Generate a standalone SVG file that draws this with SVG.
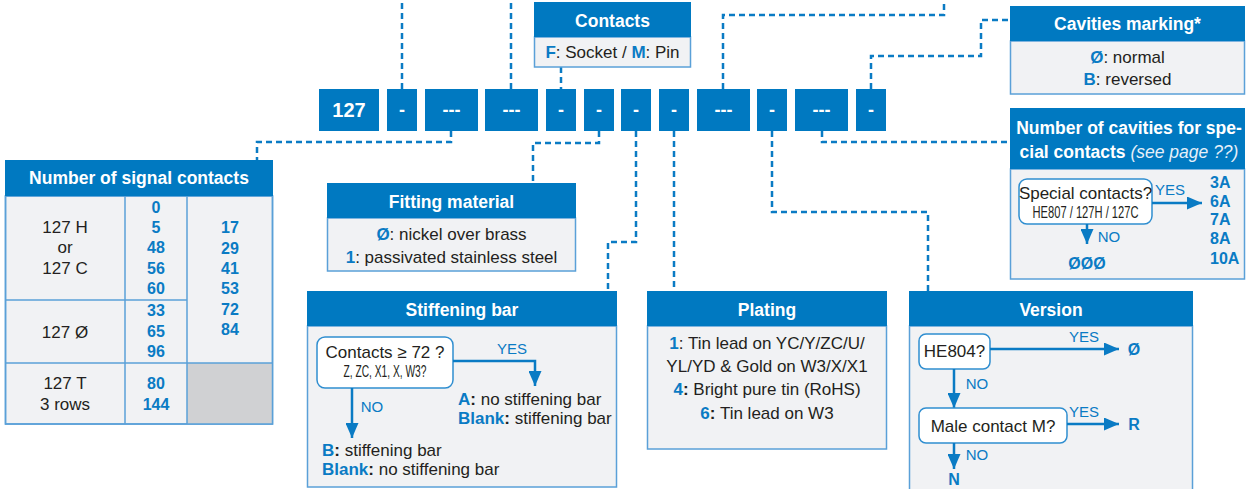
<svg xmlns="http://www.w3.org/2000/svg" width="1247" height="489" viewBox="0 0 1247 489">
<defs>
<marker id="ah" markerUnits="userSpaceOnUse" markerWidth="15" markerHeight="13" refX="15" refY="6.5" orient="auto">
<path d="M0,0 L15,6.5 L0,13 z" fill="#0a7bc4"/>
</marker>
</defs>
<style>
.hd{fill:#0079c1}
.bd{fill:#f1f2f4;stroke:#5aa0d8;stroke-width:1.5}
.code{fill:#0079c1}
.ct{font-family:"Liberation Sans",Arial,sans-serif;font-weight:bold;fill:#fff;text-anchor:middle}
.ht{font-family:"Liberation Sans",Arial,sans-serif;font-weight:bold;font-size:17.5px;fill:#fff;text-anchor:middle}
.t{font-family:"Liberation Sans",Arial,sans-serif;font-size:17px;fill:#231f20}
.m{text-anchor:middle}
.b{font-weight:bold;fill:#0a7bc4}
.bk{font-weight:bold;fill:#231f20}
.v{font-family:"Liberation Sans",Arial,sans-serif;font-size:16px;font-weight:bold;fill:#0a7bc4}
.yn{font-family:"Liberation Sans",Arial,sans-serif;font-size:15px;fill:#0a7bc4}
.q{fill:#fff;stroke:#2f8ed0;stroke-width:1.5}
.dash{fill:none;stroke:#0a7bc4;stroke-width:2.5;stroke-dasharray:6 4}
.arr{fill:none;stroke:#0a7bc4;stroke-width:2.5}
.grid{stroke:#5aa0d8;stroke-width:1.5}
</style>

<g id="connectors">
<path class="dash" d="M402,89 V0"/>
<path class="dash" d="M511,89 V0"/>
<path class="dash" d="M561,67 V89"/>
<path class="dash" d="M723,89 V15 H944 V0"/>
<path class="dash" d="M871,89 V56 H981 V20 H1010"/>
<path class="dash" d="M822,131 V142 H1010"/>
<path class="dash" d="M772,131 V212 H928 V291"/>
<path class="dash" d="M674,131 V291"/>
<path class="dash" d="M636,131 V242 H608 V291"/>
<path class="dash" d="M599,131 V143 H533 V183"/>
<path class="dash" d="M451,131 V142 H257 V160"/>
</g>

<g id="code-row">
<rect class="code" x="319" y="89" width="60" height="42"/>
<text class="ct" x="349" y="117" font-size="20">127</text>
<rect class="code" x="387" y="89" width="30" height="42"/>
<text class="ct" x="402" y="116" font-size="18">-</text>
<rect class="code" x="425" y="89" width="53" height="42"/>
<text class="ct" x="451.5" y="116" font-size="18">---</text>
<rect class="code" x="485" y="89" width="53" height="42"/>
<text class="ct" x="511.5" y="116" font-size="18">---</text>
<rect class="code" x="546" y="89" width="30" height="42"/>
<text class="ct" x="561" y="116" font-size="18">-</text>
<rect class="code" x="584" y="89" width="30" height="42"/>
<text class="ct" x="599" y="116" font-size="18">-</text>
<rect class="code" x="621" y="89" width="30" height="42"/>
<text class="ct" x="636" y="116" font-size="18">-</text>
<rect class="code" x="659" y="89" width="30" height="42"/>
<text class="ct" x="674" y="116" font-size="18">-</text>
<rect class="code" x="697" y="89" width="53" height="42"/>
<text class="ct" x="723.5" y="116" font-size="18">---</text>
<rect class="code" x="757" y="89" width="30" height="42"/>
<text class="ct" x="772" y="116" font-size="18">-</text>
<rect class="code" x="795" y="89" width="53" height="42"/>
<text class="ct" x="821.5" y="116" font-size="18">---</text>
<rect class="code" x="856" y="89" width="30" height="42"/>
<text class="ct" x="871" y="116" font-size="18">-</text>
</g>

<g id="contacts">
<rect class="bd" x="534.5" y="37" width="156" height="30"/>
<rect class="hd" x="534" y="2" width="157" height="35"/>
<text class="ht" x="612.5" y="27">Contacts</text>
<text class="t m" x="612.5" y="58"><tspan class="b">F</tspan>: Socket / <tspan class="b">M</tspan>: Pin</text>
</g>

<g id="cavities-marking">
<rect class="bd" x="1010.5" y="41" width="234" height="53"/>
<rect class="hd" x="1010" y="6" width="235" height="35"/>
<text class="ht" x="1127.5" y="30">Cavities marking*</text>
<text class="t m" x="1127.5" y="63"><tspan class="b">Ø</tspan>: normal</text>
<text class="t m" x="1127.5" y="85"><tspan class="b">B</tspan>: reversed</text>
</g>

<g id="cavities-special">
<rect class="bd" x="1010.5" y="169" width="234" height="110"/>
<rect class="hd" x="1010" y="108" width="235" height="61"/>
<text class="ht" x="1129" y="134" font-size="16">Number of cavities for spe-</text>
<text class="ht" x="1129" y="158" font-size="16">cial contacts <tspan font-weight="normal" font-style="italic" fill="#e6f0f9">(see page ??)</tspan></text>
<rect class="q" x="1019" y="179" width="133" height="45" rx="8"/>
<text class="t m" x="1085.5" y="199" font-size="15">Special contacts?</text>
<text class="t m" x="1085.5" y="217.5" font-size="12.5" textLength="106" lengthAdjust="spacingAndGlyphs">HE807 / 127H / 127C</text>
<path class="arr" d="M1152,203 H1202" marker-end="url(#ah)"/>
<text class="yn m" x="1170" y="195">YES</text>
<path class="arr" d="M1087,224 V244" marker-end="url(#ah)"/>
<text class="yn m" x="1109" y="242">NO</text>
<text class="v m" x="1087" y="269">ØØØ</text>
<text class="v" x="1210" y="188">3A</text>
<text class="v" x="1210" y="207">6A</text>
<text class="v" x="1210" y="225">7A</text>
<text class="v" x="1210" y="244">8A</text>
<text class="v" x="1210" y="264">10A</text>
</g>

<g id="signal-contacts">
<rect class="bd" x="5.5" y="196" width="267" height="228"/>
<rect x="187" y="363" width="85.5" height="61" fill="#d0d1d3"/>
<line class="grid" x1="125" y1="196" x2="125" y2="424"/>
<line class="grid" x1="187" y1="196" x2="187" y2="424"/>
<line class="grid" x1="5" y1="300" x2="187" y2="300"/>
<line class="grid" x1="5" y1="363" x2="273" y2="363"/>
<rect x="5.5" y="196" width="267" height="228" fill="none" stroke="#5aa0d8" stroke-width="1.5"/>
<rect class="hd" x="5" y="160" width="268" height="36"/>
<text class="ht" x="139" y="184">Number of signal contacts</text>
<text class="t m" x="65" y="233" font-size="16">127 H</text>
<text class="t m" x="65" y="253" font-size="16">or</text>
<text class="t m" x="65" y="274" font-size="16">127 C</text>
<text class="t m" x="65" y="338" font-size="16">127 Ø</text>
<text class="t m" x="65" y="389" font-size="16">127 T</text>
<text class="t m" x="65" y="410" font-size="16">3 rows</text>
<text class="v m" x="156" y="213">0</text>
<text class="v m" x="156" y="233">5</text>
<text class="v m" x="156" y="253">48</text>
<text class="v m" x="156" y="274">56</text>
<text class="v m" x="156" y="294">60</text>
<text class="v m" x="156" y="316">33</text>
<text class="v m" x="156" y="337">65</text>
<text class="v m" x="156" y="357">96</text>
<text class="v m" x="156" y="389">80</text>
<text class="v m" x="156" y="410">144</text>
<text class="v m" x="230" y="233">17</text>
<text class="v m" x="230" y="254">29</text>
<text class="v m" x="230" y="274">41</text>
<text class="v m" x="230" y="294">53</text>
<text class="v m" x="230" y="315">72</text>
<text class="v m" x="230" y="335">84</text>
</g>

<g id="fitting-material">
<rect class="bd" x="327.5" y="218" width="248" height="53"/>
<rect class="hd" x="327" y="183" width="249" height="35"/>
<text class="ht" x="451.5" y="208">Fitting material</text>
<text class="t m" x="451.5" y="240"><tspan class="b">Ø</tspan>: nickel over brass</text>
<text class="t m" x="451.5" y="263"><tspan class="b">1</tspan>: passivated stainless steel</text>
</g>

<g id="stiffening-bar">
<rect class="bd" x="307.5" y="326" width="309" height="161"/>
<rect class="hd" x="307" y="291" width="310" height="35"/>
<text class="ht" x="462" y="316">Stiffening bar</text>
<rect class="q" x="317" y="337" width="136" height="51" rx="8"/>
<text class="t m" x="385" y="358" font-size="15">Contacts ≥ 72 ?</text>
<text class="t m" x="385" y="376.5" font-size="12.5" textLength="83" lengthAdjust="spacingAndGlyphs">Z, ZC, X1, X, W3?</text>
<path class="arr" d="M453,361 H535 V386" marker-end="url(#ah)"/>
<text class="yn m" x="512" y="354">YES</text>
<text class="t" x="458" y="405" font-size="15.5"><tspan class="b">A</tspan><tspan class="bk">:</tspan> no stiffening bar</text>
<text class="t" x="458" y="424" font-size="15.5"><tspan class="b">Blank</tspan><tspan class="bk">:</tspan> stiffening bar</text>
<path class="arr" d="M352,388 V438" marker-end="url(#ah)"/>
<text class="yn m" x="372" y="412">NO</text>
<text class="t" x="322" y="456" font-size="15.5"><tspan class="b">B</tspan><tspan class="bk">:</tspan> stiffening bar</text>
<text class="t" x="322" y="475" font-size="15.5"><tspan class="b">Blank</tspan><tspan class="bk">:</tspan> no stiffening bar</text>
</g>

<g id="plating">
<rect class="bd" x="647.5" y="326" width="239" height="123"/>
<rect class="hd" x="647" y="291" width="240" height="35"/>
<text class="ht" x="767" y="316">Plating</text>
<text class="t m" x="767" y="349"><tspan class="b">1</tspan>: Tin lead on YC/Y/ZC/U/</text>
<text class="t m" x="767" y="372">YL/YD &amp; Gold on W3/X/X1</text>
<text class="t m" x="767" y="395"><tspan class="b">4</tspan><tspan class="bk">:</tspan> Bright pure tin (RoHS)</text>
<text class="t m" x="767" y="419"><tspan class="b">6</tspan><tspan class="bk">:</tspan> Tin lead on W3</text>
</g>

<g id="version">
<rect class="bd" x="909.5" y="326" width="283" height="170"/>
<rect class="hd" x="909" y="291" width="284" height="35"/>
<text class="ht" x="1051" y="316">Version</text>
<rect class="q" x="919" y="334" width="71" height="35" rx="7"/>
<text class="t m" x="954.5" y="357" font-size="15">HE804?</text>
<path class="arr" d="M990,349 H1119" marker-end="url(#ah)"/>
<text class="yn m" x="1084" y="342">YES</text>
<text class="v m" x="1134" y="355">Ø</text>
<path class="arr" d="M954,369 V408" marker-end="url(#ah)"/>
<text class="yn m" x="977" y="389">NO</text>
<rect class="q" x="919" y="408" width="148" height="35" rx="7"/>
<text class="t m" x="993" y="432" font-size="15.5">Male contact M?</text>
<path class="arr" d="M1067,424 H1119" marker-end="url(#ah)"/>
<text class="yn m" x="1084" y="417">YES</text>
<text class="v m" x="1134" y="430">R</text>
<path class="arr" d="M954,443 V469" marker-end="url(#ah)"/>
<text class="yn m" x="977" y="460">NO</text>
<text class="v m" x="954" y="485">N</text>
</g>
</svg>
